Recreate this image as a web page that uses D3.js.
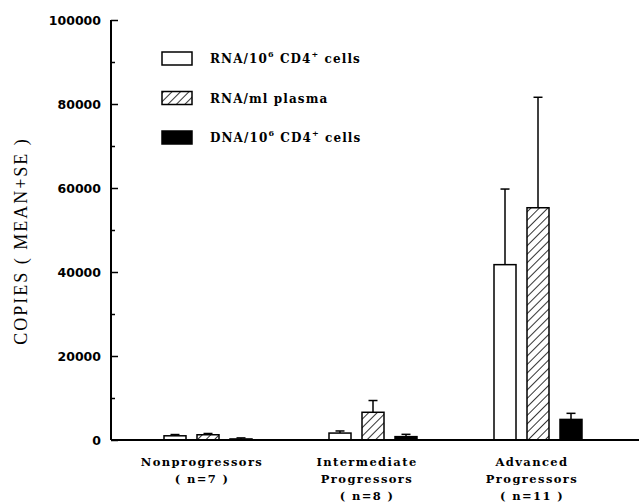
<!DOCTYPE html>
<html>
<head>
<meta charset="utf-8">
<script src="https://cdn.jsdelivr.net/npm/d3@7"></script>
<style>
  body { margin: 0; background: #fff; }
  text { fill: #000; }
</style>
</head>
<body>
<script>
// values (copies, mean + SE)
var groups = ['Nonprogressors', 'Intermediate', 'Advanced'];
var groupLines = [['Nonprogressors', '( n=7 )'],
                  ['Intermediate', 'Progressors', '( n=8 )'],
                  ['Advanced', 'Progressors', '( n=11 )']];
var series = ['rnaCells', 'rnaPlasma', 'dnaCells'];
var rnaCells = [1000, 1650, 41750];
var rnaCellsSE = [300, 500, 18000];
var rnaPlasma = [1250, 6600, 55300];
var rnaPlasmaSE = [300, 2800, 26300];
var dnaCells = [250, 800, 4900];
var dnaCellsSE = [250, 550, 1450];
var yTicks = [0, 20000, 40000, 60000, 80000, 100000];

var width = 639, height = 503;

var svg = d3.select('body').append('svg')
  .attr('width', width)
  .attr('height', height);

var defs = svg.append('defs');
defs.append('pattern')
  .attr('id', 'hatch')
  .attr('patternUnits', 'userSpaceOnUse')
  .attr('width', 6)
  .attr('height', 6)
  .attr('patternTransform', 'rotate(45)')
  .append('line')
  .attr('x1', 0).attr('y1', 0)
  .attr('x2', 0).attr('y2', 6)
  .attr('stroke', '#000')
  .attr('stroke-width', 1.6);

var y = d3.scaleLinear().domain([0, 100000]).range([440, 20]);
var x = d3.scalePoint().domain(groups).range([208, 538]);
var xs = d3.scaleBand().domain(series).range([-44, 44]).paddingInner(1 / 3);

var fills = { rnaCells: '#fff', rnaPlasma: 'url(#hatch)', dnaCells: '#000' };
var vals = { rnaCells: rnaCells, rnaPlasma: rnaPlasma, dnaCells: dnaCells };
var ses = { rnaCells: rnaCellsSE, rnaPlasma: rnaPlasmaSE, dnaCells: dnaCellsSE };

var barData = [];
groups.forEach(function(g, i) {
  series.forEach(function(s) {
    barData.push({ g: g, s: s, v: vals[s][i], se: ses[s][i] });
  });
});

// y axis
var yAxis = d3.axisRight(y).tickValues(d3.range(0, 100001, 10000))
  .tickSize(0).tickFormat('');
var ya = svg.append('g').attr('transform', 'translate(111,0)').call(yAxis);
ya.select('.domain').remove();
svg.append('line')
  .attr('x1', 111).attr('x2', 111)
  .attr('y1', y(100000)).attr('y2', y(0))
  .attr('stroke', '#000').attr('stroke-width', 2);
ya.selectAll('.tick line')
  .attr('stroke', '#000')
  .attr('stroke-width', 1.5)
  .attr('x2', function(d) { return d % 20000 === 0 ? 7 : 4; });

svg.selectAll('.ylab').data(yTicks).enter().append('text')
  .attr('class', 'ylab')
  .attr('x', 101)
  .attr('y', function(d) { return y(d) + 4.5; })
  .attr('text-anchor', 'end')
  .style('font-family', 'DejaVu Sans')
  .style('font-weight', 'bold')
  .style('font-size', '12.5px')
  .text(function(d) { return d; });

svg.append('text')
  .attr('transform', 'translate(27,241) rotate(-90)')
  .attr('text-anchor', 'middle')
  .style('font-family', 'Liberation Serif')
  .style('font-size', '18px')
  .style('letter-spacing', '2px')
  .text('COPIES ( MEAN+SE )');

// bars
svg.selectAll('.bar').data(barData).enter().append('rect')
  .attr('class', 'bar')
  .attr('x', function(d) { return x(d.g) + xs(d.s); })
  .attr('y', function(d) { return y(d.v); })
  .attr('width', xs.bandwidth())
  .attr('height', function(d) { return y(0) - y(d.v); })
  .attr('fill', function(d) { return fills[d.s]; })
  .attr('stroke', '#000')
  .attr('stroke-width', 1.5);

// error bars
var err = svg.selectAll('.err').data(barData).enter().append('g').attr('class', 'err');
err.append('line')
  .attr('x1', function(d) { return x(d.g) + xs(d.s) + xs.bandwidth() / 2; })
  .attr('x2', function(d) { return x(d.g) + xs(d.s) + xs.bandwidth() / 2; })
  .attr('y1', function(d) { return y(d.v); })
  .attr('y2', function(d) { return y(d.v + d.se); })
  .attr('stroke', '#000').attr('stroke-width', 1.5);
err.append('line')
  .attr('x1', function(d) { return x(d.g) + xs(d.s) + xs.bandwidth() / 2 - 4.5; })
  .attr('x2', function(d) { return x(d.g) + xs(d.s) + xs.bandwidth() / 2 + 4.5; })
  .attr('y1', function(d) { return y(d.v + d.se); })
  .attr('y2', function(d) { return y(d.v + d.se); })
  .attr('stroke', '#000').attr('stroke-width', 1.5);

// baseline
svg.append('line')
  .attr('x1', 111).attr('x2', width)
  .attr('y1', y(0)).attr('y2', y(0))
  .attr('stroke', '#000').attr('stroke-width', 2);

// category labels
groups.forEach(function(g, i) {
  var t = svg.append('text')
    .attr('x', x(g) - 6)
    .attr('y', 466)
    .attr('text-anchor', 'middle')
    .style('font-family', 'DejaVu Serif')
    .style('font-weight', 'bold')
    .style('font-size', '11.5px')
    .style('letter-spacing', '1.4px');
  groupLines[i].forEach(function(line, j) {
    t.append('tspan')
      .attr('x', x(g) - 6)
      .attr('dy', j === 0 ? 0 : 17)
      .text(line);
  });
});

// legend
var legendRows = [
  { s: 'rnaCells', parts: [['RNA/10', 0], ['6', 1], [' CD4', 0], ['+', 1], [' cells', 0]] },
  { s: 'rnaPlasma', parts: [['RNA/ml plasma', 0]] },
  { s: 'dnaCells', parts: [['DNA/10', 0], ['6', 1], [' CD4', 0], ['+', 1], [' cells', 0]] }
];
var legY = d3.scalePoint().domain(series).range([63, 142]);

var leg = svg.selectAll('.leg').data(legendRows).enter().append('g').attr('class', 'leg');
leg.append('rect')
  .attr('x', 162)
  .attr('y', function(d) { return legY(d.s) - 11; })
  .attr('width', 30)
  .attr('height', 13)
  .attr('fill', function(d) { return fills[d.s]; })
  .attr('stroke', '#000')
  .attr('stroke-width', 1.5);
leg.append('text')
  .attr('x', 210)
  .attr('y', function(d) { return legY(d.s); })
  .style('font-family', 'DejaVu Serif')
  .style('font-weight', 'bold')
  .style('font-size', '12px')
  .style('letter-spacing', '1.1px')
  .each(function(d) {
    var t = d3.select(this);
    var up = false;
    d.parts.forEach(function(p) {
      var ts = t.append('tspan').text(p[0]);
      if (p[1] && !up) { ts.attr('dy', -6).style('font-size', '8px'); up = true; }
      else if (!p[1] && up) { ts.attr('dy', 6); up = false; }
    });
  });
</script>
</body>
</html>
